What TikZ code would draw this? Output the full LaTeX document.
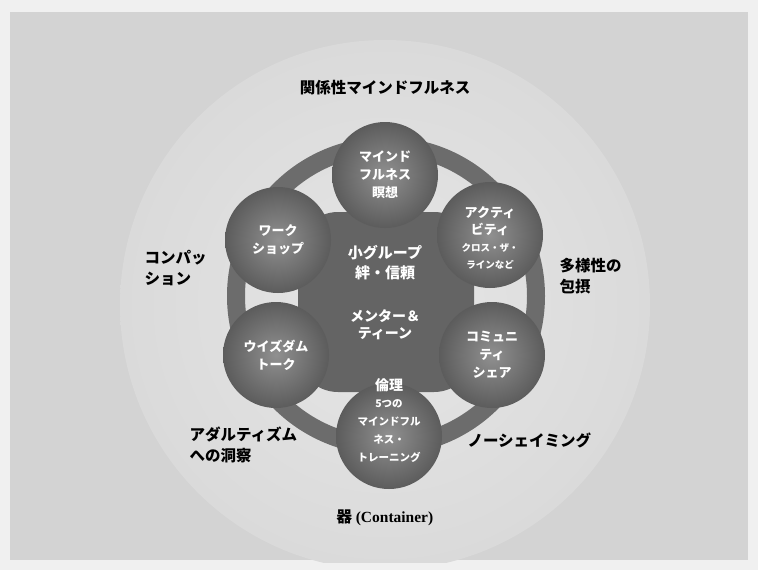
\documentclass[tikz,border=0pt]{standalone}
\usepackage{fontspec}
\setmainfont{Noto Sans CJK JP}
\newfontfamily\serifbf{Liberation Serif}
\definecolor{bgout}{HTML}{F0F0F0}
\definecolor{bgin}{HTML}{D3D3D3}
\definecolor{bigin}{HTML}{E6E6E6}
\definecolor{bigout}{HTML}{DADADA}
\definecolor{ringc}{HTML}{6C6C6C}
\definecolor{corec}{HTML}{646464}
\definecolor{ballin}{HTML}{909090}
\definecolor{ballout}{HTML}{5C5C5C}
\begin{document}
\begin{tikzpicture}[x=1pt,y=-1pt,
  ball/.style={circle, minimum size=106pt, inner sep=0pt, shading=radial,
    inner color=ballin, outer color=ballout},
  balltext/.style={text=white, align=center, font=\bfseries\fontsize{13}{18}\selectfont},
  outerlbl/.style={text=black, align=left, font=\bfseries\fontsize{15.5}{21}\selectfont}]
\useasboundingbox (0,0) rectangle (758,570);
\fill[bgout] (0,0) rectangle (758,570);
\fill[bgin] (10,12) rectangle (748,560);
\begin{scope}
  \clip (10,12) rectangle (748,562);
  \shade[inner color=bigin, outer color=bigout] (385,305) circle (265);
\end{scope}
% ring and core
\coordinate (ctr) at (386,296);
\draw[ringc, line width=18pt] (ctr) circle (150);
\fill[corec, rounded corners=40pt] (298,212) rectangle (474,392);
% spheres
\node[ball] (top) at (385,175) {};
\node[ball] (ur) at (490,235) {};
\node[ball] (lr) at (492,355) {};
\node[ball] (bot) at (389,436) {};
\node[ball] (ll) at (276,355) {};
\node[ball] (ul) at (278,240) {};
% sphere texts
\node[balltext] (toptx) at (top) {マインド\\フルネス\\瞑想};
\node[balltext, font=\bfseries\fontsize{13}{17}\selectfont] (urtx) at (490,238)
  {アクティ\\ビティ\\{\fontsize{9.5}{15}\selectfont クロス・ザ・}\\{\fontsize{9.5}{15}\selectfont ラインなど}};
\node[balltext] (lrtx) at (lr) {コミュニ\\ティ\\シェア};
\node[balltext] (bottx) at (389,421)
  {{\fontsize{14}{16}\selectfont 倫理}\\[-1pt]{\fontsize{10.5}{13.5}\selectfont 5つの}\\{\fontsize{10.5}{13.5}\selectfont マインドフル}\\{\fontsize{10.5}{13.5}\selectfont ネス・}\\{\fontsize{10.5}{13.5}\selectfont トレーニング}};
\node[balltext] (lltx) at (ll) {ウイズダム\\トーク};
\node[balltext] (ultx) at (ul) {ワーク\\ショップ};
% core texts
\node[balltext, font=\bfseries\fontsize{15}{20}\selectfont] (core1) at (385,263) {小グループ\\絆・信頼};
\node[balltext, font=\bfseries\fontsize{14}{17}\selectfont] (core2) at (385,325) {メンター＆\\ティーン};
% outer labels
\node[outerlbl] (l1) at (385,88) {関係性マインドフルネス};
\node[outerlbl, anchor=west] (l2) at (141,268) {コンパッ\\ション};
\node[outerlbl, anchor=west] (l3) at (556,276) {多様性の\\包摂};
\node[outerlbl, anchor=west] (l4) at (186,445) {アダルティズム\\への洞察};
\node[outerlbl, anchor=west] (l5) at (464,440) {ノーシェイミング};
\node[outerlbl] (l6) at (385,518) {器 {\serifbf\bfseries (Container)}};
\end{tikzpicture}
\end{document}
